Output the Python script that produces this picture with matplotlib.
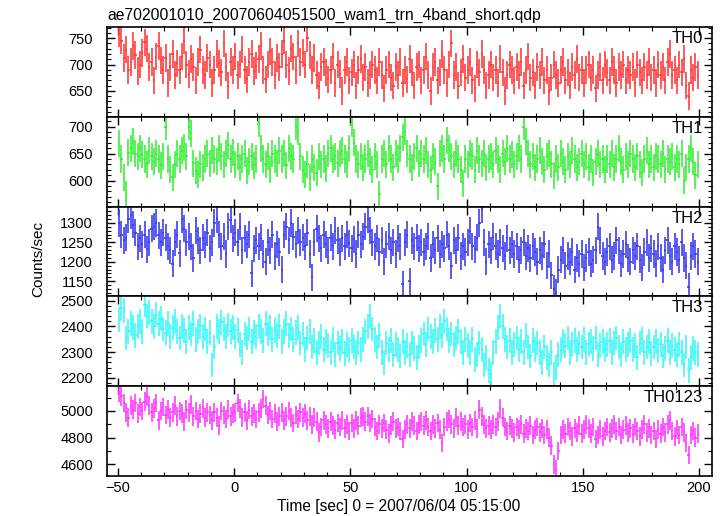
import numpy as np
import matplotlib
matplotlib.use("Agg")
import matplotlib.pyplot as plt
from matplotlib.ticker import MultipleLocator

plt.rcParams['font.family'] = ['Liberation Sans', 'DejaVu Sans']

# bin centres, 1 s bins
time = np.arange(-49.5, 200, 1.0)

th0 = [760, 745, 712, 728, 690, 705, 735, 718, 688, 700,
       722, 742, 730, 695, 705, 670, 715, 735, 708, 690,
       712, 665, 695, 720, 680, 702, 690, 715, 745, 700,
       682, 710, 695, 670, 705, 728, 690, 680, 712, 700,
       665, 690, 720, 702, 685, 740, 695, 660, 705, 690,
       715, 680, 700, 728, 690, 672, 705, 720, 688, 698,
       710, 735, 690, 672, 700, 725, 705, 680, 712, 695,
       720, 745, 700, 688, 730, 715, 690, 740, 705, 722,
       700, 750, 718, 690, 712, 680, 660, 695, 705, 685,
       672, 690, 715, 665, 700, 682, 650, 690, 705, 670,
       685, 700, 660, 690, 710, 675, 695, 665, 680, 700,
       690, 670, 705, 680, 655, 690, 700, 675, 660, 695,
       680, 705, 665, 690, 672, 710, 685, 660, 695, 700,
       670, 690, 715, 680, 650, 695, 705, 670, 685, 720,
       690, 665, 700, 740, 680, 695, 660, 685, 710, 675,
       690, 705, 670, 655, 700, 685, 720, 690, 660, 680,
       700, 675, 690, 665, 710, 685, 650, 680, 700, 690,
       670, 695, 680, 705, 660, 690, 715, 675, 685, 660,
       695, 680, 705, 670, 690, 650, 675, 700, 680, 665,
       690, 705, 670, 685, 660, 695, 680, 710, 675, 690,
       665, 690, 700, 675, 690, 655, 680, 695, 670, 700,
       685, 670, 705, 690, 665, 695, 680, 700, 670, 690,
       680, 695, 665, 700, 685, 670, 695, 680, 705, 675,
       690, 665, 700, 680, 695, 670, 705, 720, 680, 690,
       670, 700, 685, 710, 660, 640, 690, 675, 695, 680]

th1 = [668, 640, 605, 575, 652, 660, 672, 650, 645, 660,
       648, 640, 630, 655, 645, 635, 650, 640, 628, 645,
       700, 640, 620, 606, 630, 650, 640, 655, 662, 645,
       700, 688, 632, 618, 612, 630, 625, 640, 650, 632,
       655, 640, 635, 660, 645, 630, 650, 665, 640, 652,
       630, 645, 625, 640, 650, 618, 635, 645, 628, 640,
       705, 660, 640, 630, 645, 620, 650, 640, 632, 655,
       640, 650, 628, 660, 645, 640, 700, 690, 645, 620,
       612, 630, 605, 640, 625, 615, 645, 630, 640, 622,
       650, 660, 640, 645, 632, 650, 655, 640, 630, 660,
       705, 670, 640, 630, 645, 625, 640, 650, 635, 620,
       645, 630, 575, 640, 650, 630, 660, 640, 625, 650,
       640, 660, 680, 690, 650, 640, 625, 645, 660, 632,
       650, 640, 655, 630, 620, 645, 635, 590, 650, 660,
       640, 675, 660, 645, 630, 650, 640, 620, 595, 640,
       630, 650, 645, 620, 655, 640, 632, 650, 625, 640,
       645, 630, 655, 640, 620, 650, 635, 660, 640, 648,
       630, 645, 660, 640, 700, 672, 650, 630, 645, 625,
       640, 655, 635, 620, 645, 650, 630, 610, 640, 625,
       650, 635, 620, 645, 630, 655, 640, 625, 635, 650,
       630, 645, 625, 640, 615, 635, 650, 630, 640, 620,
       640, 630, 650, 625, 640, 660, 635, 620, 645, 630,
       650, 640, 625, 645, 630, 615, 640, 655, 630, 640,
       625, 645, 640, 630, 650, 620, 640, 635, 645, 625,
       640, 630, 650, 600, 625, 640, 660, 635, 610, 630]

th2 = [1300, 1270, 1255, 1262, 1310, 1320, 1295, 1275, 1240, 1260,
       1245, 1270, 1232, 1250, 1285, 1290, 1300, 1268, 1250, 1275,
       1262, 1240, 1230, 1195, 1250, 1270, 1222, 1310, 1285, 1250,
       1265, 1240, 1210, 1280, 1255, 1230, 1262, 1245, 1275, 1235,
       1250, 1300, 1310, 1270, 1240, 1265, 1220, 1290, 1308, 1260,
       1275, 1250, 1290, 1230, 1260, 1245, 1270, 1170, 1235, 1255,
       1240, 1262, 1220, 1200, 1250, 1230, 1270, 1215, 1245, 1225,
       1180, 1270, 1290, 1255, 1300, 1265, 1245, 1280, 1250, 1262,
       1240, 1275, 1220, 1160, 1250, 1285, 1260, 1235, 1270, 1245,
       1230, 1262, 1240, 1280, 1255, 1225, 1260, 1240, 1270, 1248,
       1235, 1258, 1220, 1270, 1245, 1265, 1290, 1310, 1280, 1250,
       1240, 1260, 1225, 1255, 1200, 1245, 1265, 1230, 1250, 1220,
       1260, 1240, 1142, 1250, 1270, 1150, 1255, 1240, 1262, 1235,
       1250, 1225, 1240, 1265, 1210, 1245, 1230, 1260, 1220, 1245,
       1235, 1270, 1240, 1190, 1255, 1230, 1262, 1215, 1240, 1225,
       1250, 1280, 1240, 1232, 1262, 1300, 1335, 1250, 1200, 1245,
       1230, 1265, 1240, 1220, 1250, 1235, 1215, 1260, 1230, 1245,
       1220, 1240, 1205, 1230, 1250, 1215, 1235, 1210, 1240, 1225,
       1200, 1230, 1215, 1245, 1190, 1220, 1165, 1130, 1120, 1180,
       1205, 1230, 1190, 1215, 1200, 1225, 1180, 1210, 1195, 1220,
       1185, 1210, 1225, 1195, 1205, 1230, 1290, 1255, 1215, 1200,
       1225, 1240, 1205, 1215, 1255, 1230, 1195, 1220, 1245, 1210,
       1200, 1230, 1215, 1240, 1205, 1185, 1225, 1250, 1210, 1235,
       1220, 1195, 1240, 1210, 1180, 1230, 1255, 1215, 1200, 1240,
       1225, 1205, 1250, 1210, 1190, 1135, 1215, 1240, 1220, 1200]

th3 = [2425, 2470, 2460, 2355, 2380, 2410, 2395, 2365, 2400, 2420,
       2380, 2484, 2440, 2455, 2420, 2400, 2445, 2410, 2430, 2390,
       2375, 2410, 2360, 2395, 2420, 2380, 2355, 2400, 2385, 2340,
       2395, 2370, 2410, 2350, 2380, 2400, 2360, 2390, 2340, 2375,
       2250, 2320, 2400, 2380, 2415, 2390, 2360, 2405, 2380, 2395,
       2360, 2385, 2330, 2300, 2370, 2355, 2390, 2340, 2375, 2360,
       2400, 2380, 2345, 2410, 2370, 2395, 2350, 2385, 2365, 2400,
       2340, 2380, 2410, 2365, 2390, 2350, 2375, 2395, 2335, 2370,
       2310, 2355, 2380, 2320, 2345, 2300, 2335, 2360, 2310, 2340,
       2325, 2300, 2350, 2290, 2335, 2315, 2340, 2295, 2330, 2310,
       2345, 2320, 2300, 2335, 2310, 2350, 2380, 2400, 2440, 2390,
       2350, 2320, 2365, 2300, 2260, 2335, 2310, 2345, 2290, 2330,
       2310, 2285, 2340, 2300, 2325, 2290, 2335, 2315, 2280, 2320,
       2345, 2370, 2330, 2390, 2360, 2340, 2385, 2350, 2400, 2365,
       2420, 2390, 2345, 2370, 2330, 2355, 2380, 2340, 2300, 2350,
       2325, 2300, 2350, 2270, 2290, 2335, 2310, 2250, 2280, 2230,
       2215, 2300, 2340, 2395, 2440, 2400, 2350, 2320, 2345, 2300,
       2330, 2355, 2310, 2340, 2300, 2365, 2320, 2285, 2345, 2310,
       2335, 2300, 2260, 2320, 2280, 2250, 2300, 2215, 2240, 2290,
       2310, 2340, 2325, 2355, 2300, 2330, 2345, 2310, 2335, 2320,
       2350, 2300, 2330, 2340, 2315, 2355, 2290, 2325, 2340, 2310,
       2330, 2345, 2300, 2335, 2355, 2320, 2290, 2340, 2310, 2330,
       2345, 2310, 2325, 2280, 2335, 2350, 2300, 2320, 2340, 2295,
       2320, 2340, 2305, 2330, 2285, 2315, 2345, 2300, 2325, 2310,
       2290, 2330, 2300, 2250, 2320, 2230, 2280, 2315, 2300, 2290]

th0123 = [5140, 5110, 5060, 4990, 4950, 5040, 5010, 5060, 4980, 5030,
          5000, 5070, 5110, 5040, 4990, 5020, 5060, 4930, 5000, 5030,
          4970, 5010, 4950, 4990, 5040, 4960, 5000, 4980, 4920, 5010,
          4990, 5050, 4960, 5000, 4940, 4980, 5020, 4950, 4990, 4970,
          4930, 4990, 4950, 4890, 5000, 4970, 4940, 5010, 4960, 4980,
          4990, 5060, 5020, 4950, 4990, 4930, 5010, 4960, 4980, 4940,
          4990, 5020, 5090, 5040, 4970, 5000, 4940, 4980, 4920, 4960,
          4990, 4930, 4960, 5000, 4950, 4910, 4970, 4940, 4990, 4950,
          4980, 4930, 4960, 4900, 4950, 4920, 4840, 4880, 4930, 4900,
          4870, 4920, 4890, 4860, 4910, 4880, 4930, 4870, 4900, 4850,
          4910, 4870, 4930, 4890, 4950, 4960, 4920, 4960, 4910, 4940,
          4880, 4850, 4900, 4870, 4910, 4860, 4830, 4890, 4920, 4870,
          4880, 4850, 4790, 4860, 4900, 4870, 4920, 4890, 4850, 4900,
          4920, 4890, 4930, 4880, 4850, 4900, 4870, 4910, 4860, 4760,
          4880, 4920, 4940, 4900, 4870, 4950, 4890, 4920, 4880, 4900,
          4860, 4910, 4880, 4930, 4870, 5010, 4960, 4900, 4870, 4890,
          4860, 4900, 4880, 4920, 5020, 4950, 4880, 4850, 4890, 4870,
          4840, 4880, 4860, 4900, 4830, 4870, 4850, 4890, 4820, 4860,
          4880, 4840, 4870, 4820, 4860, 4800, 4740, 4600, 4560, 4700,
          4820, 4860, 4830, 4880, 4850, 4810, 4870, 4840, 4890, 4830,
          4860, 4900, 4870, 4830, 4880, 4790, 4820, 4860, 4810, 4850,
          4880, 4840, 4870, 4900, 4850, 4880, 4820, 4860, 4890, 4840,
          4870, 4830, 4880, 4850, 4810, 4860, 4900, 4840, 4870, 4820,
          4850, 4790, 4860, 4830, 4880, 4840, 4900, 4930, 4850, 4810,
          4860, 4820, 4880, 4840, 4760, 4670, 4820, 4850, 4800, 4830]

names = ['TH0', 'TH1', 'TH2', 'TH3', 'TH0123']
series = [th0, th1, th2, th3, th0123]
errors = [26, 25, 35, 48, 70]
colors = ['#ff3a3a', '#3aee3a', '#3a3aee', '#3af8f8', '#ff3aff']
ylims = [(601, 771), (552, 718), (1111, 1342), (2168, 2516), (4512, 5186)]
major = [50, 50, 50, 100, 200]
minor = [10, 10, 10, 20, 100]

fig = plt.figure(figsize=(7.25, 5.16), dpi=100)
left, right, bottom, top = 107 / 725, 712 / 725, 1 - 476 / 516, 1 - 27 / 516
h = (top - bottom) / 5

for i in range(5):
    ax = fig.add_axes([left, top - (i + 1) * h, right - left, h])
    ax.errorbar(time, series[i], xerr=0.5, yerr=errors[i], fmt='none',
                ecolor=colors[i], elinewidth=1.3, capsize=0, alpha=0.9)
    ax.set_xlim(-54.7, 205.6)
    ax.set_ylim(*ylims[i])
    ax.yaxis.set_major_locator(MultipleLocator(major[i]))
    ax.yaxis.set_minor_locator(MultipleLocator(minor[i]))
    ax.xaxis.set_major_locator(MultipleLocator(50))
    ax.xaxis.set_minor_locator(MultipleLocator(10))
    ax.tick_params(which='both', direction='in', top=True, right=True,
                   labelsize=10.5, colors='black')
    ax.tick_params(axis='y', pad=10)
    ax.tick_params(which='major', length=6, width=1)
    ax.tick_params(which='minor', length=3, width=0.8)
    for s in ax.spines.values():
        s.set_linewidth(1.2)
    if i < 4:
        ax.tick_params(labelbottom=False)
    ax.text(0.985, 0.955, names[i], transform=ax.transAxes, ha='right',
            va='top', fontsize=12)

fig.text(left + 0.001, 1 - 20 / 516, 'ae702001010_20070604051500_wam1_trn_4band_short.qdp',
         fontsize=11.3, ha='left', va='baseline')
fig.text(38 / 725, 1 - 259 / 516, 'Counts/sec', rotation=90, ha='center', va='center',
         fontsize=11)
fig.text(398.5 / 725, 1 - 507 / 516, 'Time [sec] 0 = 2007/06/04 05:15:00',
         ha='center', va='center', fontsize=11.2)

fig.savefig('out.png', dpi=100)
